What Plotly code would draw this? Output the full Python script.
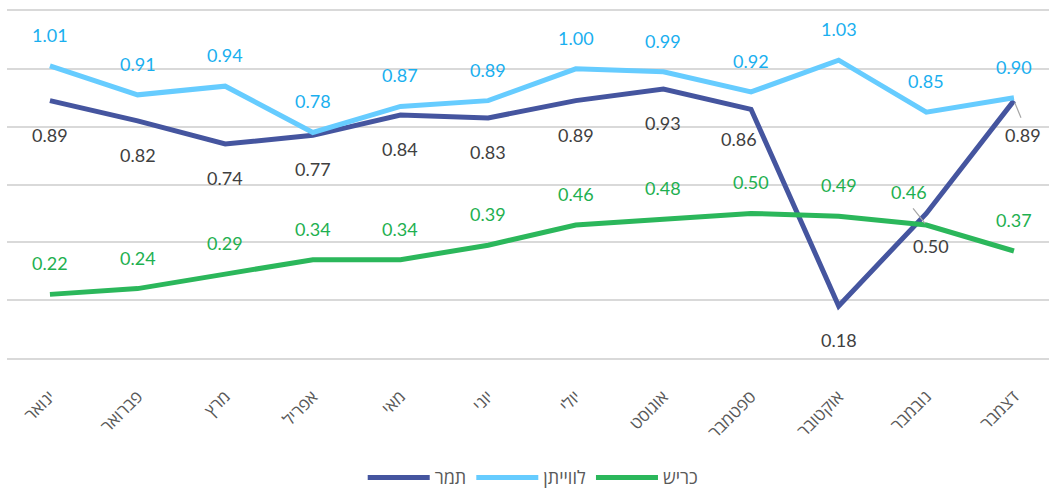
import plotly.graph_objects as go

months = ["ינואר", "פברואר", "מרץ", "אפריל", "מאי", "יוני", "יולי", "אוגוסט", "ספטמבר", "אוקטובר", "נובמבר", "דצמבר"]
tamar = [0.89, 0.82, 0.74, 0.77, 0.84, 0.83, 0.89, 0.93, 0.86, 0.18, 0.50, 0.89]
leviathan = [1.01, 0.91, 0.94, 0.78, 0.87, 0.89, 1.00, 0.99, 0.92, 1.03, 0.85, 0.90]
karish = [0.22, 0.24, 0.29, 0.34, 0.34, 0.39, 0.46, 0.48, 0.50, 0.49, 0.46, 0.37]

series = [
    ("תמר", tamar, "#45559F", "#404040", "below"),
    ("לווייתן", leviathan, "#66CCFF", "#1AAFEF", "above"),
    ("כריש", karish, "#2BB75B", "#1EB050", "above"),
]

x_idx = list(range(len(months)))

fig = go.Figure()
for name, vals, lc, tc, pos in series:
    fig.add_trace(go.Scatter(
        x=x_idx, y=vals, name=name, mode="lines",
        line=dict(color=lc, width=5),
        hoverinfo="skip",
    ))

# Special label placements (label offsets in pixels, with leader lines)
special = {
    ("כריש", 10): dict(dx=-17, dy=-33, leader=True),
    ("תמר", 10): dict(dx=5, dy=33, leader=False),
    ("תמר", 11): dict(dx=9, dy=34, leader=True),
    ("תמר", 8): dict(dx=-12, dy=30, leader=False),
}

annotations = []
for name, vals, lc, tc, pos in series:
    for i, v in enumerate(vals):
        dy = -31 if pos == "above" else 34
        dx = 0
        leader = False
        sp = special.get((name, i))
        if sp:
            dx, dy, leader = sp["dx"], sp["dy"], sp["leader"]
        annotations.append(dict(
            x=i, y=v, xref="x", yref="y",
            text=f"{v:.2f}", showarrow=False,
            xshift=dx, yshift=-dy,
            font=dict(family="Lato, Open Sans, sans-serif", size=18, color=tc),
        ))
        if leader:
            annotations.append(dict(
                x=i, y=v, xref="x", yref="y", text="",
                showarrow=True, arrowhead=0, arrowwidth=1.2, arrowcolor="#A6A6A6",
                ax=dx * 0.85, ay=dy * 0.55, standoff=2,
            ))

fig.update_layout(
    width=1049, height=488,
    margin=dict(l=7, r=0, t=11, b=130, autoexpand=False),
    paper_bgcolor="white", plot_bgcolor="white",
    showlegend=True,
    legend=dict(
        orientation="h", x=0.505, xanchor="center",
        y=-0.345, yanchor="middle",
        font=dict(family="Open Sans, sans-serif", size=18, color="#595959"),
        itemwidth=62,
    ),
    annotations=annotations,
)
fig.update_xaxes(
    range=[-0.49, 11.40], automargin=False,
    tickmode="array", tickvals=x_idx, ticktext=months,
    tickangle=-45, showgrid=False, zeroline=False,
    showline=True, mirror=True, linecolor="#D9D9D9", linewidth=2,
    ticks="", ticklabelstandoff=20,
    tickfont=dict(family="Open Sans, sans-serif", size=17, color="#595959"),
)
fig.update_yaxes(
    range=[0, 1.2], dtick=0.2, showticklabels=False, automargin=False,
    showgrid=True, gridcolor="#D9D9D9", gridwidth=2,
    zeroline=True, zerolinecolor="#D9D9D9", zerolinewidth=2,
)

fig.write_html(
    "out.html",
    config={"displayModeBar": False},
    post_script="document.body.style.margin='0';document.body.style.overflow='hidden';",
)
